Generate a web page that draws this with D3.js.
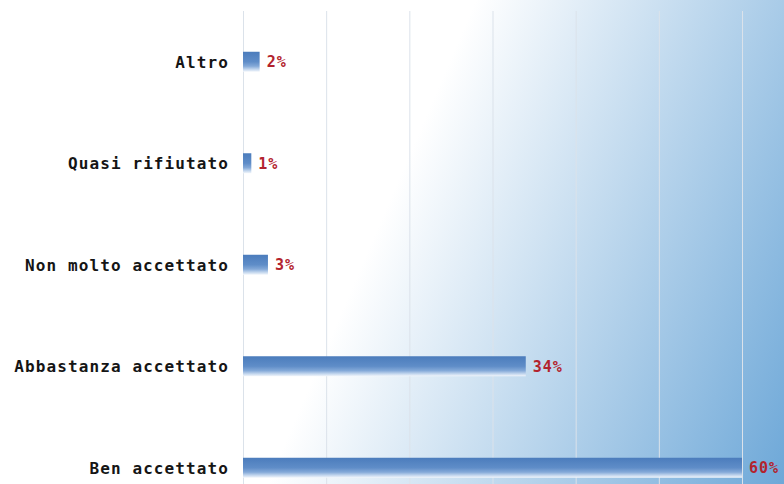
<!DOCTYPE html>
<html>
<head>
<meta charset="utf-8">
<script src="https://cdn.jsdelivr.net/npm/d3@7"></script>
<style>
  html, body { margin: 0; padding: 0; background: #fff; }
  svg { display: block; }
</style>
</head>
<body>
<svg id="chart" width="784" height="484"></svg>
<script>
// Survey answers, top to bottom
const categories = ["Altro", "Quasi rifiutato", "Non molto accettato", "Abbastanza accettato", "Ben accettato"];
const values = [2, 1, 3, 34, 60];
const gridTicks = [0, 10, 20, 30, 40, 50, 60];

const W = 784, H = 484;
const svg = d3.select("#chart");
const defs = svg.append("defs");

// Diagonal white-to-blue backdrop
const bg = defs.append("linearGradient")
  .attr("id", "bg")
  .attr("gradientUnits", "userSpaceOnUse")
  .attr("x1", 400).attr("y1", 176)
  .attr("x2", 836).attr("y2", 364);
bg.append("stop").attr("offset", 0).attr("stop-color", "#ffffff");
bg.append("stop").attr("offset", 1).attr("stop-color", "#6ea8d8");

// Bar fill: deep blue on top fading to white underneath
const barGrad = defs.append("linearGradient")
  .attr("id", "bar")
  .attr("x1", 0).attr("y1", 0).attr("x2", 0).attr("y2", 1);
[[0, "#4b7cbc"], [0.5, "#5f8dc8"], [0.72, "#84a9d8"], [0.88, "#c4d7ee"], [1, "#f2f6fb"]]
  .forEach(([o, c]) => barGrad.append("stop").attr("offset", o).attr("stop-color", c));

svg.append("rect").attr("width", W).attr("height", H).attr("fill", "url(#bg)");

const plotTop = 11, plotBottom = 518.5;
const x = d3.scaleLinear().domain([0, 60]).range([243, 742]);
const y = d3.scaleBand().domain(categories).range([plotTop, plotBottom])
  .paddingInner(0.803).paddingOuter(0.4015);

// Vertical grid lines
const grid = svg.append("g")
  .attr("transform", `translate(0,${plotBottom})`)
  .call(d3.axisBottom(x).tickValues(gridTicks).tickSize(-(plotBottom - plotTop)).tickFormat(""));
grid.select(".domain").remove();
grid.selectAll(".tick line").attr("stroke", "#dbe2ea").attr("stroke-width", 1);

// Bars
svg.append("g").selectAll("rect")
  .data(values)
  .join("rect")
  .attr("x", x(0))
  .attr("y", (d, i) => y(categories[i]))
  .attr("width", d => x(d) - x(0))
  .attr("height", y.bandwidth())
  .attr("fill", "url(#bar)");

// Category labels
svg.append("g").selectAll("text")
  .data(categories)
  .join("text")
  .attr("x", 229)
  .attr("y", d => y(d) + y.bandwidth() / 2)
  .attr("dy", "0.36em")
  .attr("text-anchor", "end")
  .attr("font-family", "'DejaVu Sans Mono', monospace")
  .attr("font-weight", "bold")
  .attr("font-size", 16)
  .attr("letter-spacing", 1.1)
  .attr("fill", "#151515")
  .text(d => d);

// Value labels
svg.append("g").selectAll("text")
  .data(values)
  .join("text")
  .attr("x", d => x(d) + 7)
  .attr("y", (d, i) => y(categories[i]) + y.bandwidth() / 2)
  .attr("dy", "0.36em")
  .attr("font-family", "'DejaVu Sans Mono', monospace")
  .attr("font-weight", "bold")
  .attr("font-size", 15)
  .attr("letter-spacing", 1)
  .attr("fill", "#b3232d")
  .text(d => d + "%");
</script>
</body>
</html>
